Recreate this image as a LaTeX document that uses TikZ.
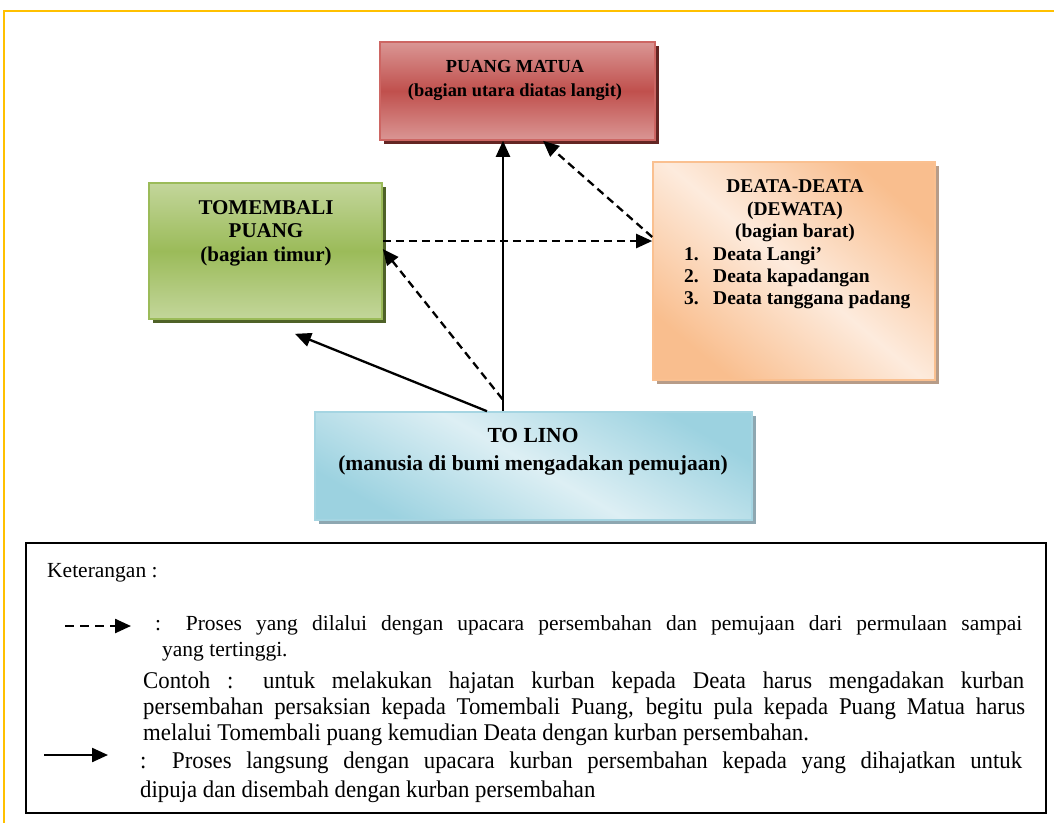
\documentclass[tikz,border=0pt]{standalone}
\usepackage{fontspec}
\setmainfont{Liberation Serif}
\newfontfamily\narrowserif[FakeStretch=0.95]{Liberation Serif}
\usetikzlibrary{arrows.meta,shadows}

\definecolor{frameyellow}{HTML}{FFC000}
\definecolor{redlight}{HTML}{DA9694}
\definecolor{redmid}{HTML}{C0504D}
\definecolor{redline}{HTML}{CD6663}
\definecolor{redshadow}{HTML}{632523}
\definecolor{greenlight}{HTML}{C3D69B}
\definecolor{greenmid}{HTML}{9BBB59}
\definecolor{greenline}{HTML}{9BBB59}
\definecolor{greenshadow}{HTML}{4F6228}
\definecolor{peachdark}{HTML}{F9BE8E}
\definecolor{peachlight}{HTML}{FDEBDD}
\definecolor{peachline}{HTML}{FAC090}
\definecolor{peachshadow}{HTML}{B79C88}
\definecolor{bluedark}{HTML}{9CD2E0}
\definecolor{bluelight}{HTML}{DDEFF4}
\definecolor{blueline}{HTML}{A5D5E2}
\definecolor{blueshadow}{HTML}{8EA7B1}

\tikzset{
  box/.style={rectangle, inner sep=0pt, line width=1.6pt},
  boxtext/.style={align=center, inner sep=0pt},
  legtext/.style={anchor=base west, inner sep=0pt, font=\fontsize{21.5}{26}\selectfont},
  narrowtext/.style={anchor=base west, inner sep=0pt, font=\fontsize{24}{26}\narrowserif},
  tip/.style={-{Triangle[length=16pt,width=14pt]}},
  solidarrow/.style={line width=2.3pt, tip},
  dasharrow/.style={line width=2.3pt, dash pattern=on 8pt off 5pt, tip},
}

\begin{document}
\begin{tikzpicture}[x=1pt,y=-1pt]
\useasboundingbox (0,0) rectangle (1054,823);
\fill[white] (0,0) rectangle (1054,823);

% page frame
\draw[frameyellow, line width=2.2pt] (4,823) -- (4,11) -- (1054,11);

% boxes
\node[box, minimum width=275pt, minimum height=98pt, draw=redline,
      top color=redlight, bottom color=redlight, middle color=redmid,
      general shadow={fill=redshadow, shadow xshift=4pt, shadow yshift=-4pt}]
      (puang) at (517.5,91) {};
\node[box, minimum width=233pt, minimum height=136pt, draw=greenline,
      top color=greenlight, bottom color=greenlight, middle color=greenmid,
      general shadow={fill=greenshadow, shadow xshift=4pt, shadow yshift=-4pt}]
      (tomb) at (265.5,251) {};
\node[box, minimum width=282pt, minimum height=218pt, draw=peachline,
      top color=peachdark, bottom color=peachdark, middle color=peachlight, shading angle=-40,
      general shadow={fill=peachshadow, shadow xshift=4pt, shadow yshift=-4pt}]
      (deata) at (794,271) {};
\node[box, minimum width=437pt, minimum height=108pt, draw=blueline,
      top color=bluedark, bottom color=bluedark, middle color=bluelight, shading angle=-30,
      general shadow={fill=blueshadow, shadow xshift=4pt, shadow yshift=-4pt}]
      (tolino) at (533.5,466) {};

% box texts
\node[boxtext, font=\fontsize{18.4}{24}\selectfont\bfseries] (puangT) at (515,80.5)
  {PUANG MATUA\\(bagian utara diatas langit)};
\node[boxtext, font=\fontsize{21}{23.5}\selectfont\bfseries] (tombT) at (266,233)
  {TOMEMBALI\\PUANG\\(bagian timur)};
\node[boxtext, font=\fontsize{19.5}{22.5}\selectfont\bfseries] (deataT) at (795,211)
  {DEATA-DEATA\\(DEWATA)\\(bagian barat)};
\node[boxtext, align=left, anchor=west, font=\fontsize{19.5}{21.7}\selectfont\bfseries] (deataL) at (684,278)
  {\makebox[29pt][l]{1.}Deata Langi’\\\makebox[29pt][l]{2.}Deata kapadangan\\\makebox[29pt][l]{3.}Deata tanggana padang};
\node[boxtext, font=\fontsize{21.5}{28}\selectfont\bfseries] (tolinoT) at (533,451.5)
  {TO LINO\\(manusia di bumi mengadakan pemujaan)};

% connectors
\draw[solidarrow] ([xshift=-30.5pt]tolino.north) -- ([xshift=-30.5pt]tolino.north |- puang.south);
\draw[solidarrow] ([xshift=-46.5pt]tolino.north) -- ([xshift=29.5pt,yshift=-14pt]tomb.south);
\draw[dasharrow] ([xshift=-31pt,yshift=12pt]tolino.north) -- ([yshift=2pt]tomb.east);
\draw[dasharrow] ([yshift=10pt]tomb.east) -- ([yshift=30pt]deata.west);
\draw[dasharrow] ([yshift=34pt]deata.west) -- ([xshift=25.5pt]puang.south);

% legend
\node[draw, line width=1.5pt, minimum width=1020pt, minimum height=270pt, inner sep=0pt] (legend) at (536,678) {};
\node[legtext] (ket) at (47,577) {Keterangan :};

\coordinate (dashA) at (65,626);
\coordinate (dashB) at (131,626);
\draw[line width=2.4pt, dash pattern=on 9pt off 6pt, tip] (dashA) -- (dashB);
\node[legtext] (l1) at (155,630) {\makebox[867pt][s]{: Proses yang dilalui dengan upacara persembahan dan pemujaan dari permulaan sampai}};
\node[legtext] (l2) at (162,656) {yang tertinggi.};
\node[narrowtext] (l3) at (143,688) {\makebox[881pt][s]{Contoh : untuk melakukan hajatan kurban kepada Deata harus mengadakan kurban}};
\node[narrowtext] (l4) at (143,714) {\makebox[882pt][s]{persembahan persaksian kepada Tomembali Puang, begitu pula kepada Puang Matua harus}};
\node[narrowtext] (l5) at (143,740) {melalui Tomembali puang kemudian Deata dengan kurban persembahan.};

\coordinate (solA) at (44,755);
\coordinate (solB) at (108,755);
\draw[solidarrow] (solA) -- (solB);
\node[narrowtext] (l6) at (140,768) {\makebox[882pt][s]{: Proses langsung dengan upacara kurban persembahan kepada yang dihajatkan untuk}};
\node[narrowtext] (l7) at (140,797) {dipuja dan disembah dengan kurban persembahan};
\end{tikzpicture}
\end{document}
